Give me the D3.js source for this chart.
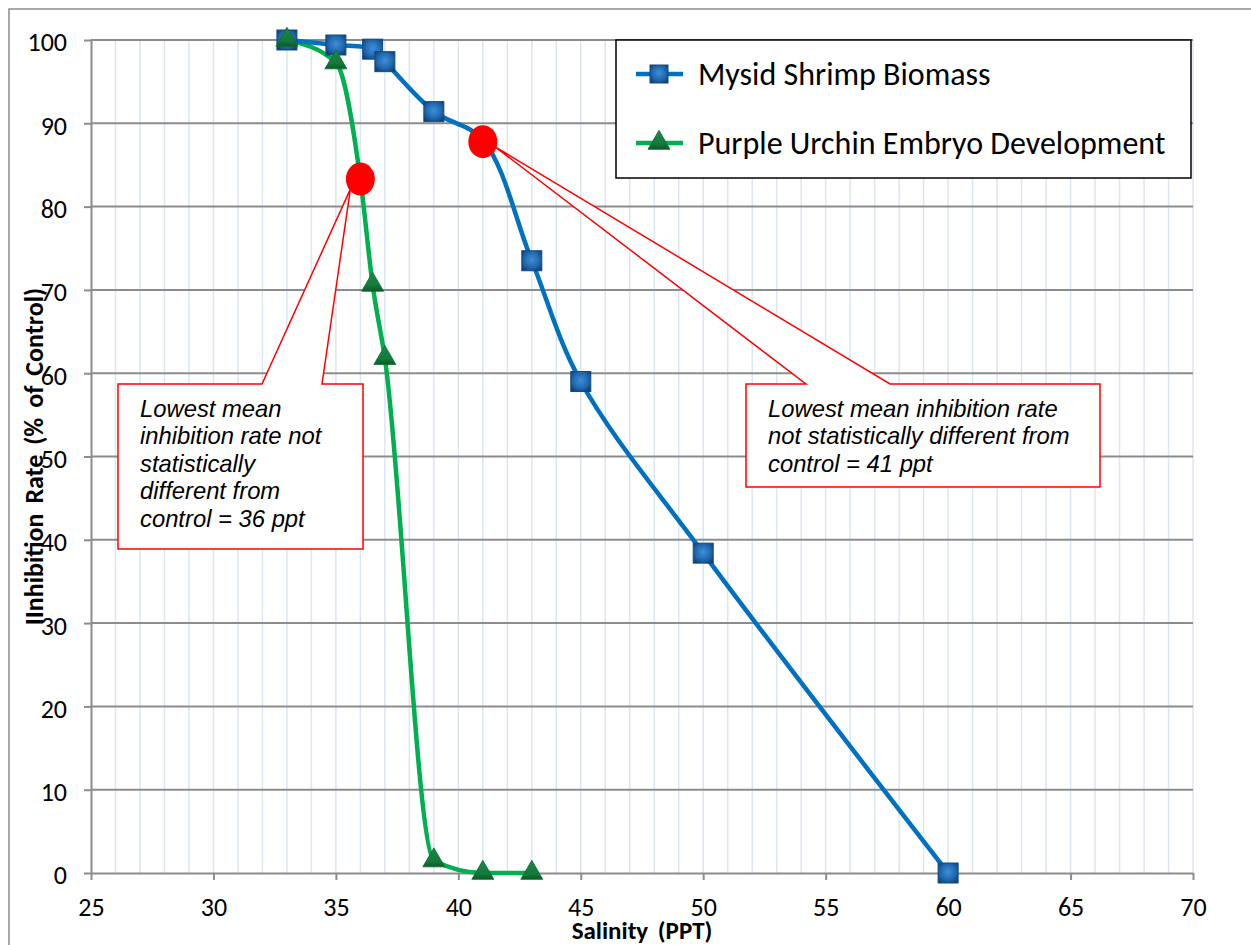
<!DOCTYPE html>
<html><head><meta charset="utf-8">
<script src="https://cdn.jsdelivr.net/npm/d3@7"></script>
<style>
html,body{margin:0;padding:0;background:#fff;}
svg{display:block;}
</style></head>
<body>
<svg id="chart" width="1251" height="945"></svg>
<script>
// ---- data ----
const mysidX = [33, 35, 36.5, 37, 39, 41, 43, 45, 50, 60];
const mysidY = [100, 99.4, 98.9, 97.4, 91.4, 88.0, 73.5, 59, 38.4, 0];
const urchinX = [33, 35, 36, 36.5, 37, 39, 41, 43];
const urchinY = [100, 97.3, 83.3, 70.6, 61.8, 1.5, 0, 0];
const xTicks = [25, 30, 35, 40, 45, 50, 55, 60, 65, 70];
const yTicks = [0, 10, 20, 30, 40, 50, 60, 70, 80, 90, 100];
const seriesNames = ["Mysid Shrimp Biomass", "Purple Urchin Embryo Development"];
const highlightX = [36, 41];
const highlightY = [83.3, 87.8];
const calloutLeft = ["Lowest mean", "inhibition rate not", "statistically", "different from", "control = 36 ppt"];
const calloutRight = ["Lowest mean inhibition rate", "not statistically different from", "control = 41 ppt"];

const svg = d3.select("#chart");
const L = 91, R = 1193, T = 40, B = 873;
const x = d3.scaleLinear().domain([25, 70]).range([L, R]);
const y = d3.scaleLinear().domain([0, 100]).range([B, T]);
const FONT = "Carlito, Calibri, Lato, 'Open Sans', sans-serif";

const defs = svg.append("defs");
const gb = defs.append("radialGradient").attr("id", "gBlue").attr("cx", "50%").attr("cy", "45%").attr("r", "65%");
gb.append("stop").attr("offset", "0%").attr("stop-color", "#3f8fd6");
gb.append("stop").attr("offset", "60%").attr("stop-color", "#1f68b0");
gb.append("stop").attr("offset", "100%").attr("stop-color", "#0f3f70");
const gg = defs.append("linearGradient").attr("id", "gGreen").attr("x1", "0").attr("y1", "0").attr("x2", "0").attr("y2", "1");
gg.append("stop").attr("offset", "0%").attr("stop-color", "#1a8a45");
gg.append("stop").attr("offset", "70%").attr("stop-color", "#137a3a");
gg.append("stop").attr("offset", "100%").attr("stop-color", "#0b5a28");

// outer chart border
svg.append("rect").attr("x", 9).attr("y", 9).attr("width", 1300).attr("height", 1000)
  .attr("fill", "none").attr("stroke", "#8c8c8c").attr("stroke-width", 1.5);

// minor vertical gridlines
const minor = d3.range(26, 71, 1);
svg.append("g").selectAll("line").data(minor).join("line")
  .attr("x1", d => x(d)).attr("x2", d => x(d)).attr("y1", T).attr("y2", B)
  .attr("stroke", "#dce6f2").attr("stroke-width", 1.5);

// horizontal major gridlines
svg.append("g").selectAll("line").data(yTicks.filter(d => d > 0)).join("line")
  .attr("x1", L).attr("x2", R).attr("y1", d => y(d)).attr("y2", d => y(d))
  .attr("stroke", "#8c8c8c").attr("stroke-width", 2);

// axes
const xAxis = svg.append("g").attr("transform", `translate(0,${B})`)
  .call(d3.axisBottom(x).tickValues(xTicks).tickSize(7).tickSizeOuter(0).tickPadding(18));
const yAxis = svg.append("g").attr("transform", `translate(${L},0)`)
  .call(d3.axisLeft(y).tickValues(yTicks).tickSize(7).tickSizeOuter(0).tickPadding(17));
[xAxis, yAxis].forEach(a => {
  a.select(".domain").attr("stroke", "#8c8c8c").attr("stroke-width", 2);
  a.selectAll(".tick line").attr("stroke", "#8c8c8c").attr("stroke-width", 2);
  a.selectAll(".tick text").attr("font-family", FONT).attr("font-size", 26).attr("fill", "#000");
});
xAxis.selectAll(".tick text").attr("dy", "0.71em");
yAxis.selectAll(".tick text").attr("dy", "0.42em");

// axis titles
svg.append("text").attr("x", (L + R) / 2).attr("y", 939).attr("text-anchor", "middle")
  .attr("font-family", FONT).attr("font-weight", "bold")
  .attr("font-size", 25).attr("fill", "#000").attr("word-spacing", "4px").text("Salinity (PPT)");
svg.append("text").attr("transform", `translate(43,${(T + B) / 2}) rotate(-90)`).attr("text-anchor", "middle")
  .attr("font-family", FONT).attr("font-weight", "bold")
  .attr("font-size", 26).attr("fill", "#000").attr("word-spacing", "4px").text("IInhibition Rate (% of Control)");

// lines
const mysid = mysidX.map((d, i) => [d, mysidY[i]]);
const urchin = urchinX.map((d, i) => [d, urchinY[i]]);
const lineU = d3.line().x(d => x(d[0])).y(d => y(d[1])).curve(d3.curveMonotoneX);
const lineM = d3.line().x(d => x(d[0])).y(d => y(d[1])).curve(d3.curveCatmullRom.alpha(0.5));
svg.append("path").datum(urchin).attr("d", lineU).attr("fill", "none").attr("stroke", "#00b050").attr("stroke-width", 4.5);
svg.append("path").datum(mysid).attr("d", lineM).attr("fill", "none").attr("stroke", "#0070c0").attr("stroke-width", 4.5);

// markers
const sq = 20;
svg.append("g").selectAll("rect").data(mysid).join("rect")
  .attr("x", d => x(d[0]) - sq / 2).attr("y", d => y(d[1]) - sq / 2).attr("width", sq).attr("height", sq)
  .attr("fill", "url(#gBlue)").attr("stroke", "#134a80").attr("stroke-width", 1);
const tri = d3.symbol().type(d3.symbolTriangle).size(210);
svg.append("g").selectAll("path").data(urchin).join("path")
  .attr("transform", d => `translate(${x(d[0])},${y(d[1])})`).attr("d", tri)
  .attr("fill", "url(#gGreen)").attr("stroke", "#0f6a30").attr("stroke-width", 0.8);

// highlight circles
svg.append("g").selectAll("ellipse").data(highlightX).join("ellipse")
  .attr("cx", d => x(d)).attr("cy", (d, i) => y(highlightY[i])).attr("rx", 14.5).attr("ry", 16.5)
  .attr("fill", "#ff0000");

// callouts
function callout(bx, by, bw, bh, p1, p2, tip, lines, tx, ty, lh) {
  const g = svg.append("g");
  const pts = [[bx, by], [p1, by], tip, [p2, by], [bx + bw, by], [bx + bw, by + bh], [bx, by + bh]];
  g.append("path").attr("d", "M" + pts.map(p => p.join(",")).join("L") + "Z")
    .attr("fill", "#fff").attr("stroke", "#ff0000").attr("stroke-width", 1.5);
  g.selectAll("text").data(lines).join("text").attr("x", tx).attr("y", (d, i) => ty + i * lh)
    .attr("font-family", "'Liberation Sans', Arial, sans-serif").attr("font-style", "italic")
    .attr("font-size", 23.8).attr("fill", "#000").text(d => d);
}
callout(118, 384, 245, 165, 262, 322, [x(highlightX[0]) - 10, y(highlightY[0]) + 10], calloutLeft, 140, 417, 27.4);
callout(746, 384, 354, 103, 806, 890, [x(highlightX[1]) + 12, y(highlightY[1]) + 5], calloutRight, 768, 417, 27.3);

// legend
const lg = svg.append("g");
lg.append("rect").attr("x", 616).attr("y", 40).attr("width", 575).attr("height", 138)
  .attr("fill", "#fff").attr("stroke", "#000").attr("stroke-width", 1.5);
const legY = [74, 143];
const legColors = ["#0070c0", "#00b050"];
seriesNames.forEach((name, i) => {
  lg.append("line").attr("x1", 636).attr("x2", 683).attr("y1", legY[i]).attr("y2", legY[i])
    .attr("stroke", legColors[i]).attr("stroke-width", 4.5);
  if (i === 0) {
    lg.append("rect").attr("x", 659 - 9).attr("y", legY[i] - 9).attr("width", 18).attr("height", 18)
      .attr("fill", "url(#gBlue)").attr("stroke", "#134a80");
  } else {
    lg.append("path").attr("transform", `translate(659,${legY[i]})`).attr("d", tri)
      .attr("fill", "url(#gGreen)").attr("stroke", "#0f6a30").attr("stroke-width", 0.8);
  }
  lg.append("text").attr("x", 698).attr("y", legY[i] + 10.5)
    .attr("font-family", FONT).attr("font-size", 32)
    .attr("fill", "#000").text(name);
});
</script>
</body></html>
